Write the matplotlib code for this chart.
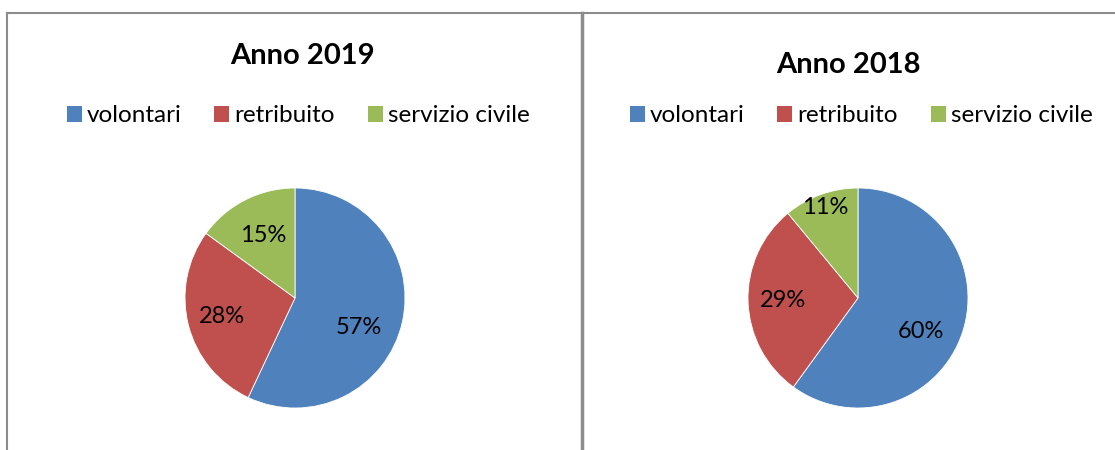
import numpy as np
import matplotlib.pyplot as plt
from matplotlib.patches import Patch
from matplotlib.lines import Line2D

plt.rcParams['font.family'] = ['Lato', 'DejaVu Sans']

categories = ['volontari', 'retribuito', 'servizio civile']
values_2019 = [57, 28, 15]
values_2018 = [60, 29, 11]
colors = ['#4F81BD', '#C0504D', '#9BBB59']

W, H = 1115, 450
fig = plt.figure(figsize=(W / 100, H / 100), dpi=100)


def px(x, y):
    return x / W, 1 - y / H


# title, values, pie centre x, title x, title y, legend x, label radii, label angle nudges
panels = [
    ('Anno 2019', values_2019, 295, 302, 56, 298, [0.64, 0.69, 0.64], [12, 0, 0]),
    ('Anno 2018', values_2018, 858, 848, 65, 861, [0.65, 0.68, 0.87], [10, 0, 0]),
]

for title, vals, cx, tx, ty, lx, radii, nudges in panels:
    r = 110
    x0, y0 = px(cx - r, 298 + r)
    ax = fig.add_axes([x0, y0, 2 * r / W, 2 * r / H])
    wedges, texts, autotexts = ax.pie(
        vals, colors=colors, startangle=90, counterclock=False,
        autopct='%d%%',
        wedgeprops=dict(edgecolor='white', linewidth=0.6),
        textprops=dict(fontsize=17, color='black'))
    for w, t, rr, nd in zip(wedges, autotexts, radii, nudges):
        ang = np.deg2rad((w.theta1 + w.theta2) / 2 - nd)
        t.set_position((rr * np.cos(ang), rr * np.sin(ang)))
    ax.set_xlim(-1, 1)
    ax.set_ylim(-1, 1)
    ax.set_aspect('equal')
    fig.text(*px(tx, ty), title, ha='center', va='center', fontsize=21, fontweight='bold')
    handles = [Patch(facecolor=c, edgecolor='none') for c in colors]
    fig.legend(handles, categories, loc='center', bbox_to_anchor=px(lx, 116), ncol=3,
               frameon=False, fontsize=17.5, handlelength=0.62, handleheight=0.62,
               handletextpad=0.2, columnspacing=1.35, borderpad=0)

# panel borders
line_kw = dict(color='#8c8c8c', linewidth=1.5, transform=fig.transFigure)
fig.add_artist(Line2D([7 / W, 1], [1 - 13 / H, 1 - 13 / H], **line_kw))
fig.add_artist(Line2D([7 / W, 7 / W], [0, 1 - 13 / H], **line_kw))
fig.add_artist(Line2D([582 / W, 582 / W], [0, 1 - 13 / H], color='#8c8c8c',
                      linewidth=2.5, transform=fig.transFigure))

fig.savefig('out.png', dpi=100)
